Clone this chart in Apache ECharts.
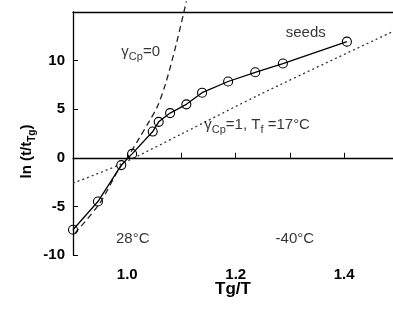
<!DOCTYPE html>
<html>
<head>
<meta charset="utf-8">
<script src="https://cdn.jsdelivr.net/npm/echarts@6/dist/echarts.min.js"></script>
<style>
  html, body { margin: 0; padding: 0; background: #fff; }
  #chart { width: 393px; height: 310px; }
</style>
</head>
<body>
<div id="chart"></div>
<script>
// seeds measurements (Tg/T, ln(t/tTg))
const seedsX = [0.900, 0.946, 0.989, 1.009, 1.047, 1.058, 1.079, 1.109, 1.138, 1.186, 1.236, 1.287, 1.405];
const seedsY = [-7.4, -4.5, -0.75, 0.4, 2.7, 3.7, 4.6, 5.5, 6.7, 7.85, 8.8, 9.7, 11.95];

// gamma_Cp = 0 curve (dashed)
const gamma0X = [0.903, 0.949, 0.983, 1.000, 1.023, 1.041, 1.055, 1.070, 1.090, 1.109];
const gamma0Y = [-7.8, -4.7, -1.3, 0.0, 2.1, 3.8, 5.2, 7.5, 11.6, 16.1];

// gamma_Cp = 1, Tf = 17 C curve (dotted)
const gamma1X = [0.900, 0.986, 1.100, 1.244, 1.490];
const gamma1Y = [-2.6, -0.7, 2.45, 6.5, 13.0];

const xTickLabels = ['1.0', '1.2', '1.4'];
const yTickLabels = ['-10', '-5', '0', '5', '10'];

// annotations: [x, y, text]
const notes = [
  [0.990, 10.7, '{n|γ}{s|Cp}{n|=0}'],
  [1.330, 12.65, '{n|seeds}'],
  [1.143, 3.15, '{n|γ}{s|Cp}{n|=1, T}{s|f}{n| =17°C}'],
  [1.011, -8.55, '{n|28°C}'],
  [1.310, -8.55, '{n|-40°C}']
];
const noteAlign = ['left', 'center', 'left', 'center', 'center'];

const font = "'Liberation Sans', Arial, sans-serif";
const ink = '#000';

const zip = (xs, ys) => xs.map((x, i) => [x, ys[i]]);

const richText = {
  n: { fontSize: 15, color: ink, fontFamily: font, verticalAlign: 'top', lineHeight: 18 },
  s: { fontSize: 11, color: ink, fontFamily: font, verticalAlign: 'bottom', padding: [7, 0, 0, 0], lineHeight: 18 }
};

const chart = echarts.init(document.getElementById('chart'), null, { renderer: 'canvas' });

chart.setOption({
  animation: false,
  backgroundColor: '#fff',
  grid: { left: 73, right: 0, top: 12, bottom: 55 },
  xAxis: [{
    type: 'value',
    min: 0.9,
    max: 1.49,
    interval: 0.1,
    name: 'Tg/T',
    nameLocation: 'middle',
    nameGap: 26,
    nameMoveOverlap: false,
    nameTextStyle: { fontSize: 17, fontWeight: 'bold', color: ink, fontFamily: font },
    axisLine: { lineStyle: { color: ink, width: 1.3 } },
    axisTick: { inside: true, length: 5, lineStyle: { color: ink } },
    splitLine: { show: false },
    axisLabel: {
      margin: 12,
      fontSize: 15,
      fontWeight: 'bold',
      color: ink,
      fontFamily: font,
      showMaxLabel: false,
      formatter: v => {
        const s = v.toFixed(1);
        return xTickLabels.includes(s) ? s : '';
      }
    }
  }, {
    type: 'value',
    position: 'top',
    min: 0.9,
    max: 1.49,
    axisLine: { show: true, onZero: false, lineStyle: { color: ink, width: 1.3 } },
    axisTick: { show: false },
    axisLabel: { show: false },
    splitLine: { show: false }
  }],
  yAxis: {
    type: 'value',
    min: -10,
    max: 15,
    interval: 5,
    // trailing spacer nudges the centred title down along the axis
    name: '{m|ln (t/t}{b|Tg}{m|)}{sp|\u00a0}',
    nameLocation: 'middle',
    nameGap: 36,
    nameMoveOverlap: false,
    nameTextStyle: {
      rich: {
        m: { fontSize: 15, fontWeight: 'bold', color: ink, fontFamily: font, verticalAlign: 'top', lineHeight: 18 },
        b: { fontSize: 10, fontWeight: 'bold', color: ink, fontFamily: font, verticalAlign: 'bottom', padding: [8, 0, 0, 0], lineHeight: 18 },
        sp: { width: 36, fontSize: 15, lineHeight: 18 }
      }
    },
    axisLine: { show: true, onZero: false, lineStyle: { color: ink, width: 1.3 } },
    axisTick: { inside: true, length: 5, lineStyle: { color: ink } },
    splitLine: { show: false },
    axisLabel: {
      margin: 8,
      fontSize: 15,
      fontWeight: 'bold',
      color: ink,
      fontFamily: font,
      formatter: v => {
        const s = String(v);
        return yTickLabels.includes(s) ? s : '';
      }
    }
  },
  series: [{
    name: 'γCp=0',
    type: 'line',
    data: zip(gamma0X, gamma0Y),
    smooth: 0.3,
    showSymbol: false,
    clip: false,
    lineStyle: { color: '#222', width: 1.3, type: [6, 4] },
    z: 2
  }, {
    name: 'γCp=1',
    type: 'line',
    data: zip(gamma1X, gamma1Y),
    smooth: 0.3,
    showSymbol: false,
    lineStyle: { color: '#333', width: 1.3, type: [2, 3] },
    z: 2
  }, {
    name: 'seeds',
    type: 'line',
    data: zip(seedsX, seedsY),
    symbol: 'circle',
    symbolSize: 9,
    clip: false,
    lineStyle: { color: ink, width: 1.3 },
    itemStyle: { color: 'rgba(255,255,255,0)', borderColor: ink, borderWidth: 1.1 },
    z: 3
  }, {
    type: 'scatter',
    data: notes.map((d, i) => ({
      value: [d[0], d[1]],
      label: { formatter: d[2], align: noteAlign[i] }
    })),
    symbolSize: 1,
    silent: true,
    itemStyle: { color: 'rgba(0,0,0,0)' },
    label: {
      show: true,
      position: [0, 0],
      verticalAlign: 'middle',
      color: ink,
      textBorderWidth: 0,
      rich: richText
    },
    z: 4
  }]
});
</script>
</body>
</html>
